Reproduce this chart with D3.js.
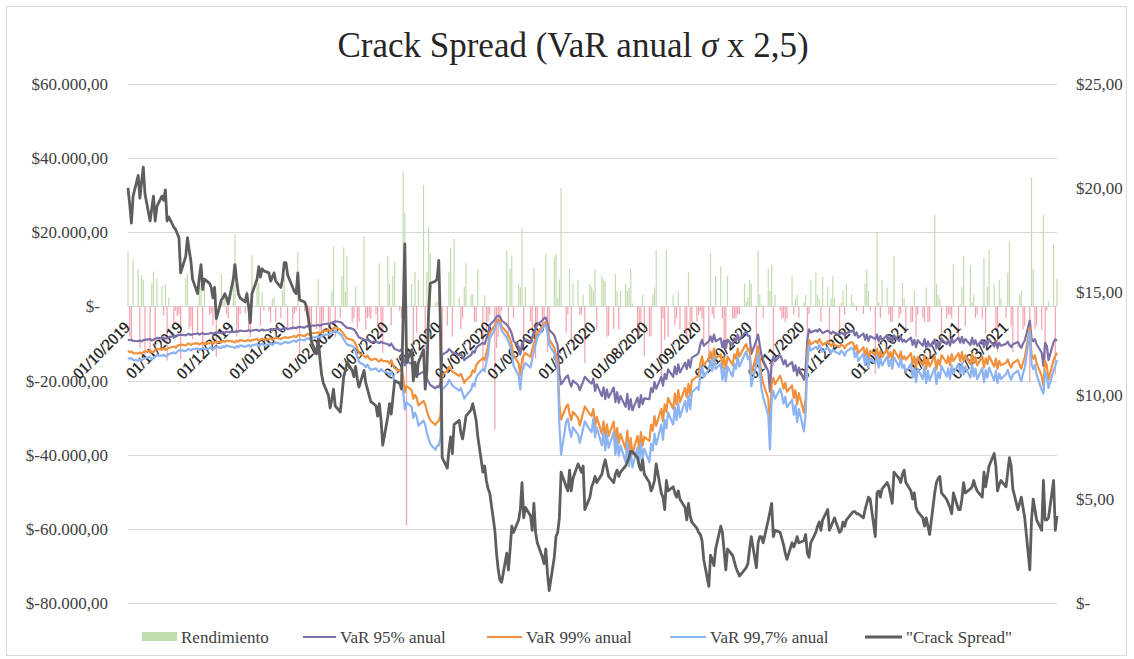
<!DOCTYPE html>
<html>
<head>
<meta charset="utf-8">
<script src="https://cdn.jsdelivr.net/npm/d3@7"></script>
<style>
  body { margin: 0; background: #fff; }
  svg { display: block; }
</style>
</head>
<body>
<svg id="chart" width="1134" height="659"></svg>
<script>
// Daily series, one value per weekday from 01/10/2019 to 31/03/2021.
// Each line of an array is one calendar month.

// Daily P&L ("Rendimiento"), thousands of $
const rendimiento = [
  14.8,-8.2,-9.5,12.6,10.1,-11.3,8.4,7.2,-13.1,-12.7,6.3,9.4,-12.2,7.5,5.6,-2.4,5.9,-14.6,2.3,-5.1,-1.2,-2.6,-2.1,
  -14.2,7.8,8.9,-6.1,-5.3,-8.8,-7.2,7.9,6.2,-11.8,5.1,-2.3,-1.9,-5.2,4.8,-13.6,8.7,1.4,2.2,-2.1,-3.3,
  11.5,19.4,-8.1,-6.3,-2.2,-1.8,4.3,-6.2,-8.4,13.8,7.1,6.3,-5.2,4.1,-1.1,-1.3,-4.2,2.1,2.4,-4.1,-3.2,4.3,
  8.2,0.6,-6.1,-6.3,-2.1,-1.2,14.6,-13.2,-1.3,-2.2,-5.1,-4.8,-7.1,-6.2,7.3,-9.1,-8.2,-4.1,-6.3,-5.8,4.2,16.2,-8.3,
  -3.1,8.2,15.9,4.1,13.5,-4.3,-3.2,5.4,-6.1,-4.2,18.9,-6.3,-3.1,-2.8,-3.4,-2.2,-5.3,11.6,-8.4,-12.5,
  13.6,6.2,-5.1,8.3,12.1,-1.2,-3.1,36.4,25.3,-59.0,6.1,-15.2,9.3,-7.1,7.2,32.8,-15.1,9.2,21.6,14.2,1.1,1.3,
  9.1,-14.3,-12.6,-5.2,9.3,15.9,-8.1,18.3,2.4,-6.2,-3.1,5.3,11.6,3.2,3.3,-4.1,-4.2,10.1,-16.8,3.1,-7.2,-4.1,
  -2.1,-33.2,-11.3,-8.2,-5.1,-1.2,15.1,-8.3,10.2,13.8,-3.1,6.2,5.1,21.0,-17.2,5.3,-4.1,-7.2,10.3,-14.1,-5.2,
  -7.2,-3.1,14.2,-12.3,-8.1,13.2,14.1,2.2,7.3,32.0,-7.1,-2.2,10.2,-10.1,6.2,7.1,-2.3,-2.1,3.2,-15.3,6.1,5.2,
  4.2,10.1,-6.3,8.2,7.3,6.9,-8.2,-7.9,-6.1,8.8,4.1,-6.2,4.3,6.1,4.2,5.1,10.2,0.8,-6.3,-8.1,-4.2,3.1,-13.5,
  -8.1,-7.9,3.2,5.1,15.1,-19.4,-3.2,-9.1,15.2,-8.2,3.1,-5.1,-3.2,4.1,-6.2,-6.1,-9.3,9.2,-8.3,-4.2,-4.1,
  -2.2,-1.3,-3.4,-10.2,-13.6,14.3,-2.1,-3.3,8.2,10.8,-3.2,-9.4,-9.1,8.1,-3.2,-3.3,-3.1,-2.2,-2.1,6.2,1.3,2.4,
  7.2,6.1,-15.3,15.1,3.2,0.5,-3.1,10.2,4.1,11.3,-16.2,3.1,-1.2,-3.3,-3.1,-4.2,-3.3,8.1,-2.2,2.1,3.2,-3.1,
  1.2,3.1,-9.2,-2.1,7.2,9.2,3.2,2.1,-4.1,8.0,5.2,-10.3,2.2,8.1,2.3,-7.2,1.1,4.2,-2.3,6.1,3.3,
  1.1,0.4,-1.2,0.3,-2.1,6.2,10.1,4.2,-1.3,-18.2,20.1,1.2,-3.1,7.2,5.1,-2.2,-4.3,-4.1,13.5,-3.2,-2.1,6.3,2.2,
  -7.2,-4.3,-4.1,4.2,-8.3,-2.2,-3.1,-4.2,5.1,-4.3,-4.1,24.8,6.1,3.2,2.1,-9.2,-3.3,-2.1,-2.3,-3.2,11.2,
  -8.2,0.6,5.2,13.5,-5.3,11.1,1.2,3.2,-3.1,-2.2,-3.3,13.1,-7.2,5.3,15.2,6.1,-6.3,-12.2,7.1,2.2,
  -3.2,9.1,17.5,-5.2,-12.3,-11.1,3.2,4.1,-6.2,-5.3,-20.4,34.8,10.2,-6.1,-5.2,-6.3,24.8,-15.2,-1.1,1.3,16.7,-18.3,7.5
];

// Annual VaR at 95%, thousands of $
const var95 = [
  -8.9,-9.1,-9.0,-9.3,-9.4,-9.2,-9.4,-9.1,-9.0,-8.8,-9.2,-9.0,-8.7,-8.5,-8.6,-8.4,-8.7,-8.5,-8.3,-8.0,-8.2,-7.9,-7.7,
  -7.6,-7.8,-7.5,-7.4,-7.7,-7.5,-7.3,-7.6,-7.4,-7.2,-7.5,-7.3,-7.1,-7.4,-7.2,-7.0,-7.2,-6.9,-7.1,-6.8,-6.9,
  -6.8,-6.9,-6.6,-6.8,-6.5,-6.7,-6.6,-6.4,-6.7,-6.5,-6.3,-6.6,-6.4,-6.2,-6.5,-6.3,-6.1,-6.4,-6.2,-6.0,-6.3,-6.1,
  -6.0,-5.9,-6.1,-5.8,-5.7,-5.9,-5.6,-5.5,-5.7,-5.4,-5.3,-5.5,-5.2,-5.1,-5.0,-5.2,-4.9,-4.8,-4.6,-4.7,-4.4,-4.2,-4.0,
  -4.2,-4.5,-5.0,-5.4,-5.8,-6.0,-6.2,-6.8,-7.6,-8.4,-8.9,-9.2,-8.8,-9.3,-9.6,-9.4,-9.7,-9.9,-9.5,-9.8,
  -10.2,-10.6,-10.0,-10.8,-11.5,-12.0,-11.6,-13.0,-15.9,-14.8,-15.5,-17.2,-16.4,-17.0,-18.4,-17.6,-18.2,-19.5,-20.4,-21.2,-22.1,-21.5,
  -21.8,-20.5,-13.0,-12.2,-11.5,-11.9,-12.4,-12.6,-13.2,-12.8,-13.6,-14.5,-14.0,-13.1,-12.1,-12.5,-11.2,-10.7,-9.8,-10.2,-8.8,-7.5,
  -5.0,-3.6,-2.8,-2.5,-2.7,-3.8,-4.9,-5.6,-6.2,-7.4,-9.3,-10.8,-13.0,-10.1,-9.4,-8.9,-9.6,-8.2,-7.1,-6.0,-4.9,
  -3.8,-3.2,-3.0,-4.5,-6.3,-7.8,-9.2,-10.5,-18.5,-21.0,-19.0,-18.6,-20.4,-21.6,-20.0,-21.2,-22.6,-21.4,-20.2,-19.0,-20.5,-20.8,
  -19.5,-22.8,-21.0,-24.2,-21.8,-25.0,-22.4,-24.6,-21.9,-25.8,-23.1,-26.0,-24.2,-27.1,-23.6,-27.8,-25.0,-28.0,-24.6,-27.2,-23.9,-26.4,-24.8,
  -25.0,-22.0,-23.1,-20.4,-22.2,-19.0,-21.4,-18.2,-19.6,-17.0,-19.0,-16.2,-18.3,-15.6,-17.8,-15.2,-16.9,-14.4,-16.5,-13.8,-13.0,
  -12.5,-10.2,-9.0,-10.6,-9.4,-8.1,-9.6,-7.6,-9.4,-8.6,-11.0,-9.2,-11.2,-9.0,-10.5,-8.6,-9.4,-7.6,-9.0,-7.2,-6.8,-7.9,
  -8.0,-12.8,-9.2,-7.6,-10.5,-13.2,-14.6,-17.5,-23.0,-14.8,-13.6,-14.8,-13.2,-14.2,-15.6,-14.5,-16.2,-15.0,-17.4,-15.9,-18.6,-16.5,
  -19.8,-17.0,-9.0,-6.2,-7.0,-6.4,-6.8,-6.1,-6.6,-7.2,-6.5,-6.9,-7.4,-6.8,-7.1,-7.6,-7.0,-7.3,-7.8,-7.2,-6.6,
  -6.5,-7.8,-7.0,-8.4,-7.3,-9.0,-7.6,-9.3,-8.0,-8.8,-7.6,-9.4,-8.0,-9.1,-7.7,-9.2,-8.2,-9.6,-7.8,-9.3,-8.1,-9.5,-9.0,
  -9.6,-8.4,-10.4,-9.0,-11.0,-9.1,-10.6,-8.8,-11.2,-9.4,-10.8,-8.9,-11.3,-9.6,-10.5,-8.7,-10.2,-9.0,-10.6,-8.6,-9.8,
  -8.4,-9.8,-8.2,-9.9,-8.8,-10.4,-8.5,-10.2,-9.1,-10.6,-9.0,-11.0,-9.3,-10.4,-8.9,-10.8,-9.4,-11.2,-9.8,-10.6,
  -10.1,-9.5,-10.4,-11.0,-10.2,-9.6,-10.5,-11.2,-10.0,-9.2,-3.8,-8.6,-9.4,-8.8,-10.2,-12.5,-16.0,-9.8,-10.6,-14.5,-9.6,-8.9,-9.3
];

// Annual VaR at 99%, thousands of $
const var99 = [
  -12.0,-12.3,-12.2,-12.6,-12.7,-12.4,-12.7,-12.3,-12.2,-11.9,-12.4,-12.2,-11.7,-11.5,-11.6,-11.3,-11.7,-11.5,-11.2,-10.8,-11.1,-10.7,-10.4,
  -10.3,-10.5,-10.1,-10.0,-10.4,-10.1,-9.9,-10.3,-10.0,-9.7,-10.1,-9.9,-9.6,-10.0,-9.7,-9.5,-9.7,-9.3,-9.6,-9.2,-9.3,
  -9.5,-9.7,-9.2,-9.5,-9.1,-9.4,-9.2,-9.0,-9.4,-9.1,-8.8,-9.2,-9.0,-8.7,-9.1,-8.8,-8.5,-9.0,-8.7,-8.4,-8.8,-8.5,
  -8.4,-8.3,-8.5,-8.1,-8.0,-8.3,-7.8,-7.7,-8.0,-7.6,-7.4,-7.7,-7.3,-7.1,-7.0,-7.3,-6.9,-6.7,-6.4,-6.6,-6.2,-5.9,-5.6,
  -6.3,-6.8,-7.5,-8.1,-8.7,-9.0,-9.3,-10.2,-11.4,-12.6,-13.4,-13.8,-13.2,-14.0,-14.4,-14.1,-14.6,-14.9,-14.3,-14.7,
  -14.8,-15.4,-14.5,-15.7,-16.7,-17.4,-16.8,-18.9,-23.1,-21.5,-22.5,-24.9,-23.8,-24.7,-26.7,-25.5,-26.4,-28.3,-29.6,-30.7,-32.0,-31.2,
  -31.0,-29.1,-18.5,-17.3,-16.3,-16.9,-17.6,-17.9,-18.7,-18.2,-19.3,-20.6,-19.9,-18.6,-17.2,-17.8,-15.9,-15.2,-13.9,-14.5,-12.5,-10.7,
  -7.1,-5.1,-4.0,-3.6,-3.8,-5.4,-7.0,-8.0,-8.8,-10.5,-13.2,-15.3,-18.5,-14.3,-13.3,-12.6,-13.6,-11.6,-10.1,-8.5,-7.0,
  -5.4,-4.5,-4.3,-6.4,-8.9,-11.1,-13.1,-14.9,-26.5,-30.5,-27.0,-26.4,-29.0,-30.7,-28.4,-30.1,-32.1,-30.4,-28.7,-27.0,-29.1,-29.5,
  -27.7,-32.4,-29.8,-34.4,-31.0,-35.5,-31.8,-34.9,-31.1,-36.6,-32.8,-36.9,-34.4,-38.5,-33.5,-39.5,-35.5,-39.8,-34.9,-38.6,-33.9,-37.5,-35.2,
  -36.3,-31.9,-33.5,-29.6,-32.2,-27.6,-31.0,-26.4,-28.4,-24.7,-27.6,-23.5,-26.5,-22.6,-25.8,-22.0,-24.5,-20.9,-23.9,-20.0,-18.9,
  -18.8,-15.3,-13.5,-15.9,-14.1,-12.2,-14.4,-11.4,-14.1,-12.9,-16.5,-13.8,-16.8,-13.5,-15.8,-12.9,-14.1,-11.4,-13.5,-10.8,-10.2,-11.9,
  -11.4,-18.2,-13.1,-10.8,-14.9,-18.7,-20.7,-24.9,-32.7,-21.0,-19.3,-21.0,-18.7,-20.2,-22.2,-20.6,-23.0,-21.3,-24.7,-22.6,-26.4,-23.4,
  -28.7,-24.7,-13.1,-9.0,-10.2,-9.3,-9.9,-8.8,-9.6,-10.4,-9.4,-10.0,-10.7,-9.9,-10.3,-11.0,-10.2,-10.6,-11.3,-10.4,-9.6,
  -9.8,-11.7,-10.5,-12.6,-11.0,-13.5,-11.4,-14.0,-12.0,-13.2,-11.4,-14.1,-12.0,-13.7,-11.6,-13.8,-12.3,-14.4,-11.7,-14.0,-12.2,-14.3,-13.5,
  -14.4,-12.6,-15.6,-13.5,-16.5,-13.7,-15.9,-13.2,-16.8,-14.1,-16.2,-13.4,-17.0,-14.4,-15.8,-13.1,-15.3,-13.5,-15.9,-12.9,-14.7,
  -12.6,-14.7,-12.3,-14.9,-13.2,-15.6,-12.8,-15.3,-13.7,-15.9,-13.5,-16.5,-14.0,-15.6,-13.4,-16.2,-14.1,-16.8,-14.7,-15.9,
  -15.2,-14.3,-15.6,-16.5,-15.3,-14.4,-15.8,-16.8,-15.0,-13.8,-5.7,-12.9,-14.1,-13.2,-15.3,-18.8,-21.5,-14.7,-15.9,-19.8,-14.4,-13.4,-12.5
];

// Annual VaR at 99,7%, thousands of $
const var997 = [
  -13.8,-14.1,-14.0,-14.4,-14.6,-14.3,-14.6,-14.1,-14.0,-13.6,-14.3,-14.0,-13.5,-13.2,-13.3,-13.0,-13.5,-13.2,-12.9,-12.4,-12.7,-12.2,-11.9,
  -11.8,-12.1,-11.6,-11.5,-11.9,-11.6,-11.3,-11.8,-11.5,-11.2,-11.6,-11.3,-11.0,-11.5,-11.2,-10.9,-11.2,-10.7,-11.0,-10.5,-10.7,
  -11.0,-11.2,-10.7,-11.0,-10.5,-10.9,-10.7,-10.4,-10.9,-10.5,-10.2,-10.7,-10.4,-10.0,-10.5,-10.2,-9.9,-10.4,-10.0,-9.7,-10.2,-9.9,
  -9.7,-9.6,-9.9,-9.4,-9.2,-9.6,-9.1,-8.9,-9.2,-8.7,-8.6,-8.9,-8.4,-8.3,-8.1,-8.4,-7.9,-7.8,-7.5,-7.6,-7.1,-6.8,-6.5,
  -7.5,-8.0,-8.9,-9.6,-10.3,-10.7,-11.0,-12.1,-13.5,-15.0,-15.8,-16.4,-15.7,-16.6,-17.1,-16.7,-17.3,-17.6,-16.9,-17.4,
  -17.9,-18.6,-17.5,-18.9,-20.1,-21.0,-20.3,-22.8,-27.8,-25.9,-27.1,-30.1,-28.7,-29.8,-32.2,-30.8,-31.9,-34.1,-35.7,-37.1,-38.7,-37.6,
  -37.5,-35.3,-22.4,-21.0,-19.8,-20.5,-21.3,-21.7,-22.7,-22.0,-23.4,-24.9,-24.1,-22.5,-20.8,-21.5,-19.3,-18.4,-16.9,-17.5,-15.1,-12.9,
  -8.6,-6.2,-4.8,-4.3,-4.6,-6.5,-8.4,-9.6,-10.7,-12.7,-16.0,-18.6,-22.4,-17.4,-16.2,-15.3,-16.5,-14.1,-12.2,-10.3,-8.4,
  -6.2,-5.2,-4.9,-7.3,-10.3,-12.7,-15.0,-17.1,-32.0,-40.0,-31.0,-30.3,-33.3,-35.2,-32.6,-34.6,-36.8,-34.9,-32.9,-31.0,-33.4,-33.9,
  -30.2,-35.3,-32.6,-37.5,-33.8,-38.8,-34.7,-38.1,-33.9,-40.0,-35.8,-40.3,-37.5,-42.0,-36.6,-43.1,-38.8,-43.4,-38.1,-42.2,-37.0,-40.9,-38.4,
  -42.0,-37.0,-38.8,-34.3,-37.3,-31.9,-36.0,-30.6,-32.9,-28.6,-31.9,-27.2,-30.7,-26.2,-29.9,-25.5,-28.4,-24.2,-27.7,-23.2,-21.8,
  -22.5,-18.4,-16.2,-19.1,-16.9,-14.6,-17.3,-13.7,-16.9,-15.5,-19.8,-16.6,-20.2,-16.2,-18.9,-15.5,-16.9,-13.7,-16.2,-13.0,-12.2,-14.2,
  -13.4,-21.5,-15.5,-12.8,-17.6,-22.2,-24.5,-29.4,-38.6,-24.9,-22.8,-24.9,-22.2,-23.9,-26.2,-24.4,-27.2,-25.2,-29.2,-26.7,-31.2,-27.7,
  -33.7,-28.9,-15.3,-10.5,-11.9,-10.9,-11.6,-10.4,-11.2,-12.2,-11.1,-11.7,-12.6,-11.6,-12.1,-12.9,-11.9,-12.4,-13.3,-12.2,-11.2,
  -11.4,-13.7,-12.3,-14.7,-12.8,-15.8,-13.3,-16.3,-14.0,-15.4,-13.3,-16.5,-14.0,-15.9,-13.5,-16.1,-14.4,-16.8,-13.7,-16.3,-14.2,-16.6,-15.8,
  -17.8,-15.5,-19.2,-16.7,-20.4,-16.8,-19.6,-16.3,-20.7,-17.4,-20.0,-16.5,-20.9,-17.8,-19.4,-16.1,-18.9,-16.7,-19.6,-15.9,-18.1,
  -15.5,-18.1,-15.2,-18.3,-16.3,-19.2,-15.7,-18.9,-16.8,-19.6,-16.7,-20.4,-17.2,-19.2,-16.5,-20.0,-17.4,-20.7,-18.1,-19.6,
  -18.2,-17.1,-18.7,-19.8,-18.4,-17.3,-18.9,-20.2,-18.0,-16.6,-6.8,-15.5,-16.9,-15.8,-18.4,-22.5,-23.5,-17.6,-19.1,-22.0,-17.3,-16.0,-14.5
];

// "Crack Spread", $ per barrel (right axis)
const crackSpread = [
  20.0,19.2,18.3,19.6,20.6,19.5,20.3,21.0,19.7,18.4,19.0,19.6,18.4,19.1,19.6,19.4,19.9,18.4,18.6,18.1,18.0,17.8,17.6,
  15.9,16.7,17.6,17.0,16.5,15.6,14.9,15.7,16.3,15.1,15.6,15.4,15.2,14.7,15.2,13.7,14.6,14.7,14.9,14.7,14.4,
  15.6,16.3,15.5,14.9,14.7,14.5,14.9,14.3,13.5,14.9,15.6,16.2,15.7,16.1,16.0,15.9,15.5,15.7,15.9,15.5,15.2,15.6,
  16.4,16.4,15.8,15.2,15.0,14.9,15.9,14.6,14.5,14.3,13.8,13.3,12.6,12.0,12.7,11.8,11.0,10.6,10.0,9.4,9.8,10.3,9.5,
  9.2,10.0,10.9,11.2,11.6,11.2,10.9,11.4,10.8,10.4,11.2,10.6,10.3,10.0,9.7,9.5,9.0,9.6,8.8,7.6,
  9.0,9.6,9.1,9.9,10.7,10.6,10.3,13.8,17.3,11.6,12.2,10.7,11.6,10.9,11.6,12.2,10.3,11.2,14.0,15.4,15.5,15.6,
  16.5,13.2,7.0,6.5,7.4,8.0,7.2,8.6,8.8,8.2,7.9,8.4,9.0,9.3,9.6,9.2,8.8,8.0,6.3,6.6,5.9,5.5,
  5.3,3.5,2.4,1.6,1.1,1.0,2.4,1.6,2.6,3.7,3.4,4.0,4.5,5.8,4.1,4.6,4.2,3.5,4.8,3.4,2.9,
  2.2,1.9,2.6,1.4,0.6,2.2,3.2,3.4,4.1,6.3,5.6,5.4,6.4,5.4,6.0,6.7,6.5,6.3,6.6,4.5,5.1,5.6,
  5.8,6.1,5.8,6.2,6.6,6.9,6.5,6.1,5.8,6.2,6.4,6.1,6.3,6.6,6.8,7.0,7.3,7.3,7.0,6.6,6.4,6.9,6.2,
  5.8,5.4,5.6,5.9,6.7,5.3,5.1,4.5,5.9,5.4,5.6,5.3,5.1,5.4,5.0,4.6,4.0,4.8,4.2,3.9,3.6,
  3.4,3.3,3.0,2.1,0.8,2.3,2.1,1.8,2.6,3.7,3.4,2.5,1.6,2.6,2.3,2.0,1.7,1.5,1.3,1.6,1.7,1.9,
  2.6,3.2,1.7,2.9,3.2,3.2,2.9,4.0,4.4,4.8,3.2,3.5,3.4,3.1,2.8,2.4,2.1,2.9,2.7,2.9,3.2,2.9,
  3.0,3.3,2.4,2.2,2.9,3.4,3.7,3.9,3.5,4.0,4.5,3.5,3.7,3.9,4.1,3.4,3.5,3.9,3.7,4.0,4.3,
  4.4,4.4,4.3,4.3,4.1,4.5,4.8,5.1,5.0,3.2,5.3,5.4,5.1,5.5,5.8,5.6,5.2,4.8,6.3,6.0,5.8,6.2,6.4,
  5.8,5.4,5.0,5.3,4.6,4.4,4.1,3.7,4.1,3.7,3.3,5.3,5.8,6.0,6.1,5.3,5.0,4.8,4.6,4.3,5.3,
  4.5,4.5,5.0,5.8,5.3,5.5,5.6,5.9,5.6,5.4,5.1,6.3,5.6,6.1,6.6,7.2,6.6,5.4,5.7,5.9,
  5.6,6.3,7.0,6.6,5.5,4.5,4.8,5.1,4.6,4.1,1.6,4.0,5.0,4.5,4.0,3.5,5.9,4.0,4.0,4.1,5.9,3.5,4.2
];

// Axis ticks
const leftTicks = [60000, 40000, 20000, 0, -20000, -40000, -60000, -80000];
const rightTicks = [25, 20, 15, 10, 5, 0];
const firstDay = new Date(2019, 9, 1);
const lastDay = new Date(2021, 2, 31);

// Trading days (weekdays) that the daily values belong to
const tradingDays = d3.timeDay.range(firstDay, d3.timeDay.offset(lastDay, 1))
  .filter(d => d.getDay() % 6 !== 0);
const monthTicks = d3.timeMonth.range(firstDay, d3.timeDay.offset(lastDay, 1));

const K = 1000;
const esLocale = d3.formatLocale({ decimal: ",", thousands: ".", grouping: [3], currency: ["$", ""], minus: "-" });
const money = esLocale.format(",.2f");
const moneyLabel = v => v === 0 ? "$-" : "$" + money(v);
const dateLabel = d3.timeFormat("%d/%m/%Y");

const svg = d3.select("#chart");
const serif = "'Liberation Serif', 'Times New Roman', 'DejaVu Serif', serif";

const x = d3.scaleTime().domain([firstDay, lastDay]).range([128, 1057]);
const yL = d3.scaleLinear().domain([-80000, 60000]).range([603, 84]);
const yR = d3.scaleLinear().domain([0, 25]).range([603, 84]);

// chart frame
svg.append("rect")
  .attr("x", 6.5).attr("y", 6.5).attr("width", 1120).attr("height", 649)
  .attr("fill", "#fff").attr("stroke", "#d9d9d9");

// title
const title = svg.append("text")
  .attr("x", 573).attr("y", 57)
  .attr("text-anchor", "middle")
  .attr("font-family", serif).attr("font-size", 35)
  .attr("fill", "#262626");
title.append("tspan").text("Crack Spread (VaR anual ");
title.append("tspan").attr("font-style", "italic").text("σ");
title.append("tspan").text(" x 2,5)");

// horizontal gridlines (left axis)
svg.append("g").selectAll("line").data(leftTicks).join("line")
  .attr("x1", 128).attr("x2", 1057)
  .attr("y1", d => Math.round(yL(d)) + 0.5).attr("y2", d => Math.round(yL(d)) + 0.5)
  .attr("stroke", "#d9d9d9").attr("stroke-width", 1);

// left axis labels
svg.append("g").selectAll("text").data(leftTicks).join("text")
  .attr("x", d => d === 0 ? 100 : 108)
  .attr("y", d => yL(d) + 6)
  .attr("text-anchor", "end")
  .attr("font-family", serif).attr("font-size", 17)
  .attr("fill", "#404040")
  .text(moneyLabel);

// right axis labels
svg.append("g").selectAll("text").data(rightTicks).join("text")
  .attr("x", 1076)
  .attr("y", d => yR(d) + 6)
  .attr("text-anchor", "start")
  .attr("font-family", serif).attr("font-size", 17)
  .attr("fill", "#404040")
  .text(moneyLabel);

// daily P&L bars
const n = Math.min(tradingDays.length, rendimiento.length);
svg.append("g").selectAll("rect").data(rendimiento.slice(0, n)).join("rect")
  .attr("x", (d, i) => x(tradingDays[i]) - 0.6)
  .attr("width", 1.2)
  .attr("y", d => Math.min(yL(d * K), yL(0)))
  .attr("height", d => Math.abs(yL(d * K) - yL(0)))
  .attr("fill", d => d >= 0 ? "#c3dcae" : "#f2a2ad");

// month labels along the zero line
svg.append("g").selectAll("text").data(monthTicks).join("text")
  .attr("transform", d => `translate(${x(d) + 3},${yL(0) + 22}) rotate(-45)`)
  .attr("text-anchor", "end")
  .attr("font-family", serif).attr("font-size", 16)
  .attr("fill", "#1a1a1a")
  .attr("stroke", "#1a1a1a").attr("stroke-width", 0.4)
  .text(dateLabel);

// VaR lines and crack spread
const lineL = d3.line().x((d, i) => x(tradingDays[i])).y(d => yL(d * K));
const lineR = d3.line().x((d, i) => x(tradingDays[i])).y(d => yR(d));

const series = [
  { values: var95, color: "#7b70a8", width: 2.2 },
  { values: var99, color: "#f0913e", width: 2.2 },
  { values: var997, color: "#8cb3f2", width: 2.2 }
];
svg.append("g").selectAll("path").data(series).join("path")
  .attr("d", s => lineL(s.values.slice(0, n)))
  .attr("fill", "none")
  .attr("stroke", s => s.color)
  .attr("stroke-width", s => s.width)
  .attr("stroke-linejoin", "round");

svg.append("path")
  .attr("d", lineR(crackSpread.slice(0, n)))
  .attr("fill", "none")
  .attr("stroke", "#5e5e5e")
  .attr("stroke-width", 2.8)
  .attr("stroke-linejoin", "round");

// legend
const legendY = 637;
const legend = svg.append("g").attr("font-family", serif).attr("font-size", 17).attr("fill", "#404040");
const items = [
  { label: "Rendimiento", kind: "bar", color: "#c3dcae", x0: 142, x1: 177 },
  { label: "VaR 95% anual", kind: "line", color: "#7b70a8", x0: 303, x1: 336 },
  { label: "VaR 99% anual", kind: "line", color: "#f0913e", x0: 487, x1: 522 },
  { label: "VaR 99,7% anual", kind: "line", color: "#8cb3f2", x0: 670, x1: 706 },
  { label: "\"Crack Spread\"", kind: "line", color: "#5e5e5e", x0: 865, x1: 902 }
];
items.forEach(it => {
  if (it.kind === "bar") {
    legend.append("rect").attr("x", it.x0).attr("y", legendY - 5)
      .attr("width", it.x1 - it.x0).attr("height", 9).attr("fill", it.color);
  } else {
    legend.append("line").attr("x1", it.x0).attr("x2", it.x1)
      .attr("y1", legendY).attr("y2", legendY)
      .attr("stroke", it.color).attr("stroke-width", it.label.startsWith("\"") ? 2.8 : 2.2);
  }
  legend.append("text").attr("x", it.x1 + 4).attr("y", legendY + 6).text(it.label);
});
</script>
</body>
</html>
